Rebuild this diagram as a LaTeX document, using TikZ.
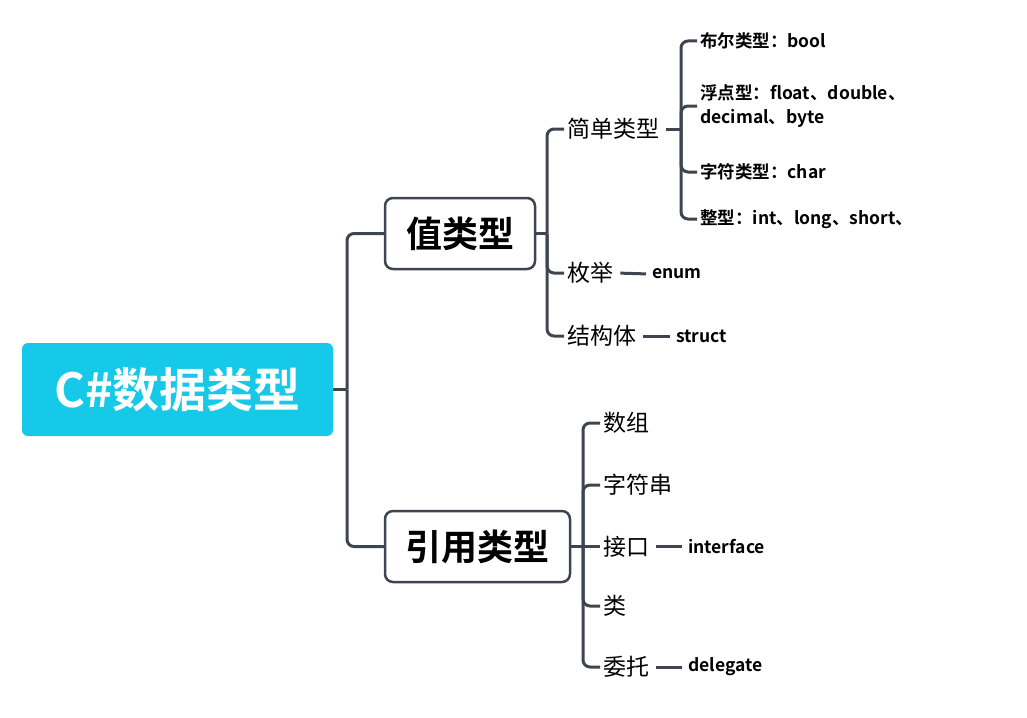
\documentclass[tikz,border=0pt]{standalone}
\usepackage{fontspec}
\setmainfont{Noto Sans CJK SC}[BoldFont={* Bold}]
\definecolor{lc}{HTML}{3E4551}
\definecolor{rootc}{HTML}{17C9E8}
\begin{document}
\begin{tikzpicture}[x=1pt,y=-1pt,
 conn/.style={draw=lc,line width=3pt,rounded corners=7pt},
 rootbox/.style={fill=rootc,rounded corners=6pt,minimum width=311pt,minimum height=93pt,text=white,font=\bfseries\fontsize{47}{47}\selectfont,inner sep=0pt},
 mainbox/.style={draw=lc,line width=2.5pt,fill=white,rounded corners=8pt,minimum height=71pt,font=\bfseries\fontsize{36}{36}\selectfont,text=black,inner sep=0pt},
 sub/.style={anchor=west,inner sep=3pt,font=\fontsize{23}{23}\selectfont},
 leaf/.style={anchor=west,inner sep=3pt,font=\bfseries\fontsize{17.5}{24}\selectfont,align=left},
 gapline/.style={conn,shorten <=4pt,shorten >=3pt},
 ]
\useasboundingbox (0,0) rectangle (1027,717);
\node[rootbox] (root) at (177.5,389.5) {C\#数据类型};
\node[mainbox,minimum width=150pt] (val) at (460,233.5) {值类型};
\node[mainbox,minimum width=185pt] (ref) at (477.5,546.5) {引用类型};
\node[sub] (simple) at (564,129) {简单类型};
\node[sub] (enum) at (564,273) {枚举};
\node[sub] (struct) at (564,336) {结构体};
\node[leaf] (bool) at (697,41) {布尔类型：bool};
\node[leaf] (float) at (697,106) {浮点型：float、double、\\decimal、byte};
\node[leaf] (char) at (697,172) {字符类型：char};
\node[leaf] (int) at (697,219) {整型：int、long、short、};
\node[leaf] (enumv) at (649,274) {enum};
\node[leaf] (structv) at (673,336) {struct};
\node[sub] (arr) at (600,423) {数组};
\node[sub] (str) at (600,485) {字符串};
\node[sub] (iface) at (600,546.5) {接口};
\node[sub] (cls) at (600,606) {类};
\node[sub] (dlg) at (600,667) {委托};
\node[leaf] (ifacev) at (685,546.5) {interface};
\node[leaf] (dlgv) at (685,667) {delegate};
% root bus
\coordinate (b0) at (347,389.5);
\draw[conn] (root.east) -- (b0);
\draw[conn] (b0) |- (val.west);
\draw[conn] (b0) |- (ref.west);
% value bus
\coordinate (b1) at (547,233.5);
\draw[conn] (val.east) -- (b1);
\draw[conn] (b1) |- (simple.west);
\draw[conn] (b1) |- (enum.west);
\draw[conn] (b1) |- (struct.west);
% simple bus
\coordinate (b2) at (681,129);
\draw[conn] ([xshift=4pt]simple.east) -- (b2);
\draw[conn] (b2) |- (bool.west);
\draw[conn] (b2) |- (float.west);
\draw[conn] (b2) |- (char.west);
\draw[conn] (b2) |- (int.west);
\draw[gapline] (enum.east) -- (enumv.west);
\draw[gapline] (struct.east) -- (structv.west);
% reference bus
\coordinate (b3) at (583,546.5);
\draw[conn] (ref.east) -- (iface.west);
\draw[conn] (b3) |- (arr.west);
\draw[conn] (b3) |- (str.west);
\draw[conn] (b3) |- (cls.west);
\draw[conn] (b3) |- (dlg.west);
\draw[gapline] (iface.east) -- (ifacev.west);
\draw[gapline] (dlg.east) -- (dlgv.west);
\end{tikzpicture}
\end{document}
